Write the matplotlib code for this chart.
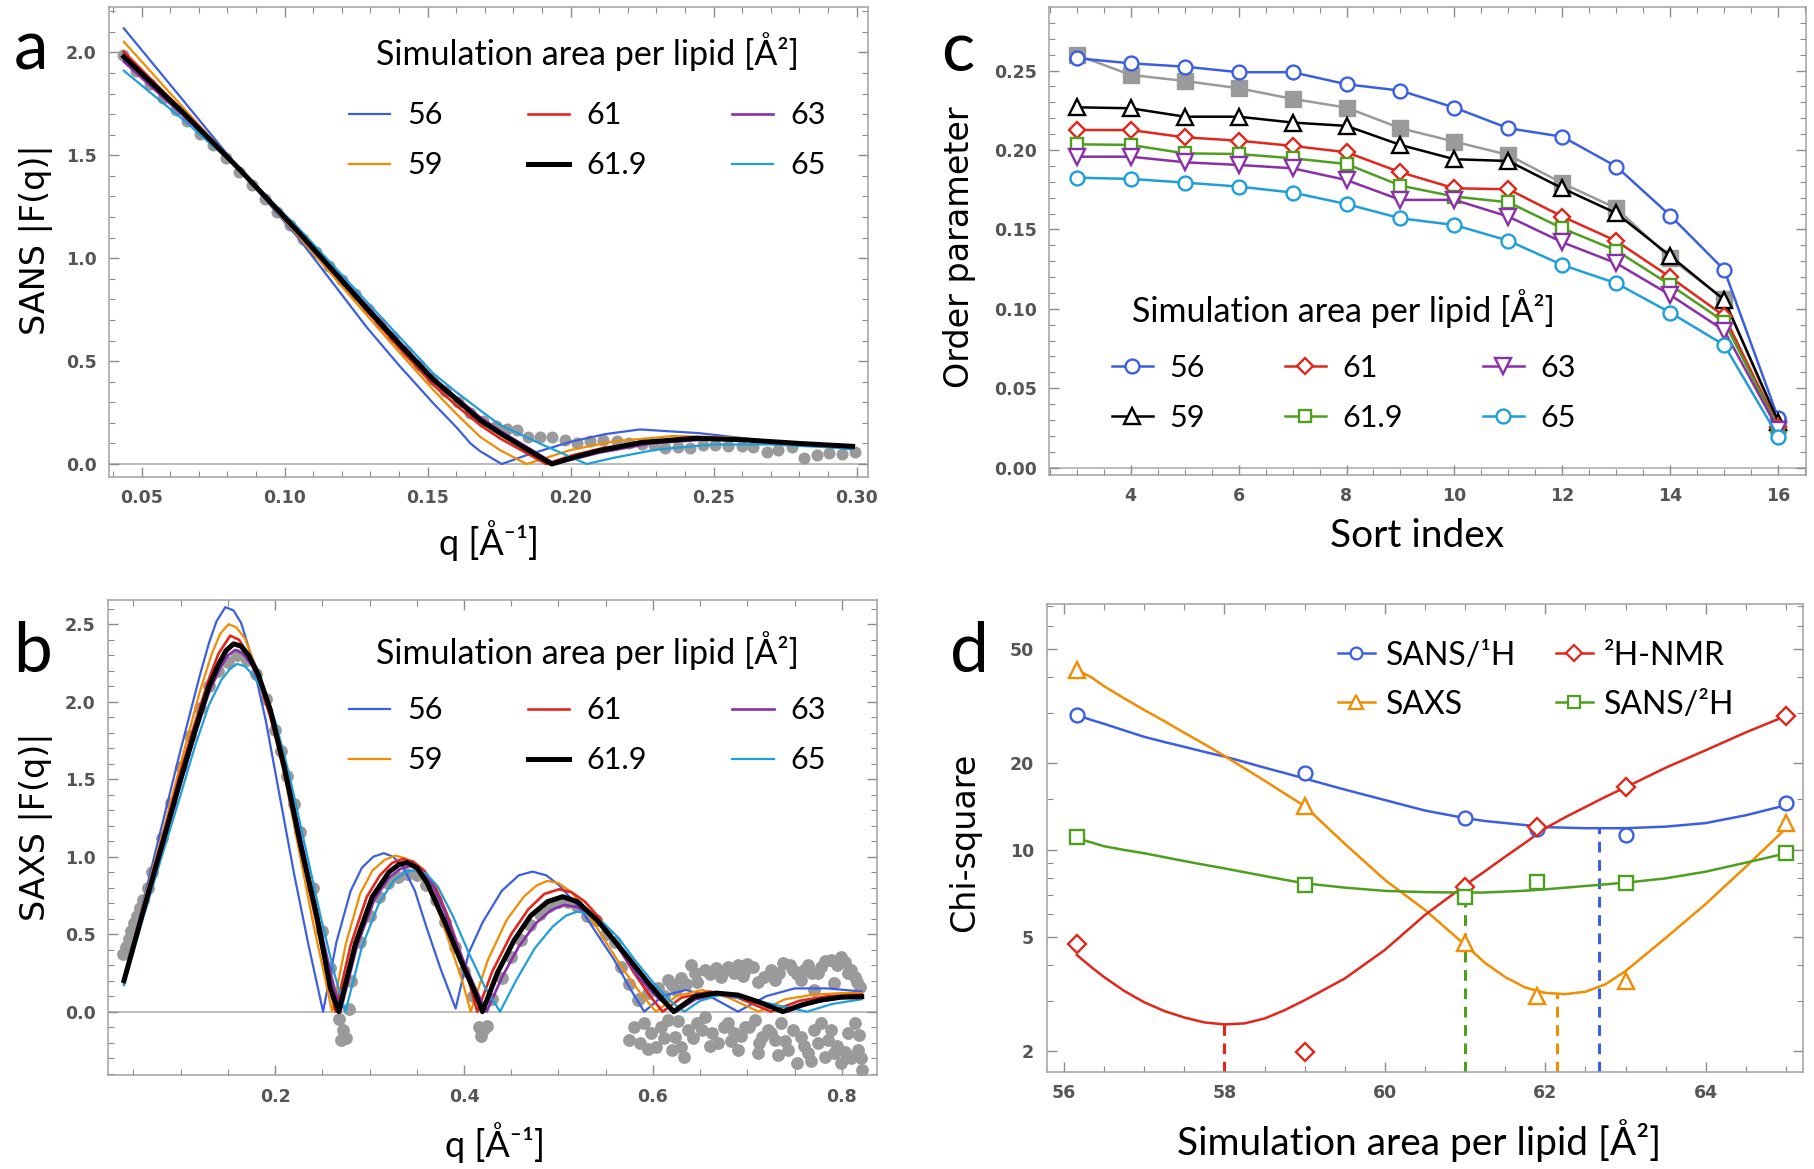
import matplotlib
matplotlib.use('Agg')
import matplotlib.pyplot as plt
from matplotlib.lines import Line2D
from matplotlib.ticker import MultipleLocator, FixedLocator, NullFormatter

plt.rcParams['font.family'] = ['Lato', 'DejaVu Sans']

# ---------------- data ----------------
areas = ['56', '59', '61', '61.9', '63', '65']
area_colors = ['#3b5fe0', '#f28c00', '#e3261b', '#000000', '#8b2fa8', '#1e9fd9']

# panel a: SANS form factors
a_q = {
    '56':   [0.0438, 0.064, 0.0844, 0.1053, 0.1287, 0.140, 0.152, 0.160, 0.165, 0.1683, 0.1759, 0.185, 0.200, 0.212, 0.2242, 0.245, 0.270, 0.2986],
    '59':   [0.0438, 0.064, 0.0844, 0.1053, 0.1287, 0.140, 0.152, 0.160, 0.1683, 0.1753, 0.1846, 0.200, 0.215, 0.2359, 0.255, 0.275, 0.2986],
    '61':   [0.0438, 0.064, 0.0844, 0.1053, 0.1287, 0.140, 0.152, 0.160, 0.1683, 0.1753, 0.1915, 0.200, 0.212, 0.240, 0.260, 0.280, 0.2986],
    '61.9': [0.0438, 0.064, 0.0844, 0.1053, 0.1287, 0.140, 0.152, 0.160, 0.1683, 0.1753, 0.1934, 0.200, 0.210, 0.225, 0.244, 0.260, 0.280, 0.2986],
    '63':   [0.0438, 0.064, 0.0844, 0.1053, 0.1287, 0.140, 0.152, 0.160, 0.1683, 0.1753, 0.1945, 0.200, 0.210, 0.228, 0.248, 0.265, 0.280, 0.2986],
    '65':   [0.0438, 0.064, 0.0844, 0.1053, 0.1287, 0.140, 0.152, 0.160, 0.1683, 0.1753, 0.190, 0.2056, 0.215, 0.230, 0.250, 0.270, 0.2986],
}
a_f = {
    '56':   [2.117, 1.776, 1.43, 1.09, 0.665, 0.48, 0.295, 0.18, 0.10, 0.063, 0.0, 0.045, 0.108, 0.145, 0.168, 0.15, 0.11, 0.072],
    '59':   [2.052, 1.74, 1.43, 1.10, 0.724, 0.545, 0.36, 0.245, 0.133, 0.068, 0.0, 0.068, 0.11, 0.136, 0.13, 0.105, 0.080],
    '61':   [2.003, 1.72, 1.43, 1.115, 0.745, 0.565, 0.385, 0.285, 0.19, 0.125, 0.0, 0.04, 0.08, 0.128, 0.12, 0.10, 0.084],
    '61.9': [1.979, 1.715, 1.43, 1.12, 0.757, 0.585, 0.41, 0.315, 0.214, 0.150, 0.0, 0.028, 0.065, 0.105, 0.125, 0.118, 0.10, 0.086],
    '63':   [1.955, 1.70, 1.43, 1.128, 0.77, 0.597, 0.42, 0.325, 0.228, 0.162, 0.0, 0.02, 0.055, 0.10, 0.12, 0.115, 0.10, 0.083],
    '65':   [1.911, 1.68, 1.43, 1.14, 0.789, 0.62, 0.44, 0.35, 0.262, 0.19, 0.095, 0.0, 0.03, 0.07, 0.095, 0.095, 0.075],
}
a_exp_q = [0.0436, 0.0480, 0.0528, 0.0574, 0.0620, 0.0660, 0.0705, 0.0750, 0.0795, 0.0840, 0.0885, 0.0930,
           0.0975, 0.1020, 0.1065, 0.1110, 0.1155, 0.1200, 0.1245, 0.1290, 0.1335, 0.1380, 0.1425, 0.1470,
           0.1515, 0.1560, 0.1605, 0.1650, 0.1695, 0.1740, 0.1776, 0.1811, 0.1852, 0.1893, 0.1934, 0.1981,
           0.2022, 0.2068, 0.2115, 0.2161, 0.2205, 0.2250, 0.2290, 0.2330, 0.2377, 0.2418, 0.2464, 0.2505,
           0.2552, 0.2599, 0.2639, 0.2686, 0.2727, 0.2774, 0.2815, 0.2861, 0.2902, 0.2949, 0.2996]
a_exp_f = [1.987, 1.91, 1.845, 1.78, 1.72, 1.665, 1.605, 1.55, 1.485, 1.42, 1.355, 1.29,
           1.225, 1.16, 1.095, 1.03, 0.96, 0.895, 0.825, 0.755, 0.685, 0.615, 0.55, 0.48,
           0.415, 0.355, 0.30, 0.25, 0.21, 0.185, 0.17, 0.165, 0.133, 0.130, 0.130, 0.117,
           0.10, 0.11, 0.117, 0.11, 0.10, 0.095, 0.09, 0.077, 0.084, 0.077, 0.094, 0.094,
           0.089, 0.089, 0.082, 0.056, 0.066, 0.082, 0.029, 0.045, 0.053, 0.050, 0.056]

# panel b: SAXS form factors
b_q = {
    '56': [0.040, 0.0677, 0.100, 0.120, 0.130, 0.138, 0.1473, 0.156, 0.164, 0.175, 0.190, 0.205, 0.220, 0.235, 0.2508,
           0.265, 0.280, 0.292, 0.304, 0.3151, 0.325, 0.336, 0.348, 0.360, 0.375, 0.3911,
           0.405, 0.420, 0.440, 0.458, 0.4725, 0.487, 0.500, 0.5237, 0.559, 0.5767, 0.5908,
           0.610, 0.635, 0.660, 0.690, 0.720, 0.750, 0.785, 0.821],
    '59': [0.040, 0.060, 0.080, 0.100, 0.120, 0.133, 0.142, 0.1508, 0.159, 0.168, 0.180, 0.195, 0.210, 0.225, 0.240, 0.252, 0.2604,
           0.275, 0.290, 0.303, 0.316, 0.3275, 0.338, 0.350, 0.362, 0.374, 0.387, 0.398, 0.4071,
           0.425, 0.445, 0.463, 0.477, 0.4884, 0.500, 0.514, 0.530, 0.550, 0.570, 0.588, 0.6032,
           0.625, 0.652, 0.680, 0.712, 0.740, 0.770, 0.800, 0.821],
    '61': [0.040, 0.060, 0.080, 0.100, 0.115, 0.130, 0.140, 0.1525, 0.162, 0.172, 0.183, 0.195, 0.210, 0.225, 0.240, 0.255, 0.2639,
           0.280, 0.297, 0.311, 0.324, 0.335, 0.346, 0.358, 0.370, 0.382, 0.396, 0.406, 0.414,
           0.430, 0.450, 0.468, 0.485, 0.5007, 0.514, 0.528, 0.544, 0.562, 0.580, 0.597, 0.6103,
           0.630, 0.660, 0.690, 0.725, 0.755, 0.785, 0.821],
    '61.9': [0.040, 0.060, 0.080, 0.100, 0.115, 0.130, 0.140, 0.148, 0.156, 0.164, 0.172, 0.182, 0.195, 0.210, 0.2268, 0.2444, 0.2586, 0.2674,
             0.2851, 0.3028, 0.3205, 0.331, 0.3399, 0.350, 0.3611, 0.3788, 0.3965, 0.4106, 0.4195,
             0.4353, 0.453, 0.4707, 0.4884, 0.5043, 0.520, 0.541, 0.5696, 0.5944, 0.612, 0.622,
             0.644, 0.667, 0.690, 0.711, 0.7375, 0.757, 0.778, 0.799, 0.821],
    '63': [0.040, 0.060, 0.080, 0.100, 0.115, 0.130, 0.142, 0.150, 0.1578, 0.166, 0.175, 0.185, 0.197, 0.212, 0.228, 0.245, 0.260, 0.2692,
           0.287, 0.305, 0.320, 0.332, 0.342, 0.353, 0.365, 0.380, 0.398, 0.412, 0.424,
           0.440, 0.458, 0.476, 0.492, 0.506, 0.520, 0.535, 0.550, 0.567, 0.585, 0.605, 0.6245,
           0.645, 0.670, 0.700, 0.742, 0.770, 0.800, 0.821],
    '65': [0.040, 0.060, 0.080, 0.100, 0.115, 0.130, 0.143, 0.152, 0.1596, 0.168, 0.177, 0.187, 0.200, 0.215, 0.231, 0.248, 0.263, 0.2745,
           0.292, 0.310, 0.326, 0.338, 0.3487, 0.360, 0.372, 0.388, 0.405, 0.422, 0.4381,
           0.455, 0.475, 0.494, 0.508, 0.5202, 0.533, 0.548, 0.563, 0.580, 0.600, 0.618, 0.6332,
           0.650, 0.672, 0.710, 0.763, 0.790, 0.821],
}
b_f = {
    '56': [0.18, 0.893, 1.69, 2.163, 2.38, 2.52, 2.611, 2.59, 2.51, 2.292, 1.883, 1.388, 0.893, 0.441, 0.0,
           0.45, 0.78, 0.93, 1.00, 1.023, 1.00, 0.93, 0.78, 0.55, 0.28, 0.02,
           0.38, 0.58, 0.78, 0.88, 0.904, 0.88, 0.82, 0.66, 0.334, 0.14, 0.0,
           0.10, 0.14, 0.10, 0.0, 0.10, 0.15, 0.15, 0.13],
    '59': [0.19, 0.68, 1.13, 1.60, 2.06, 2.31, 2.44, 2.501, 2.48, 2.41, 2.22, 1.92, 1.52, 1.05, 0.58, 0.24, 0.0,
           0.44, 0.76, 0.91, 0.98, 1.007, 0.99, 0.92, 0.80, 0.63, 0.40, 0.20, 0.0,
           0.33, 0.59, 0.74, 0.815, 0.844, 0.83, 0.77, 0.65, 0.45, 0.26, 0.11, 0.0,
           0.10, 0.14, 0.09, 0.0, 0.08, 0.11, 0.12, 0.12],
    '61': [0.20, 0.66, 1.10, 1.55, 1.86, 2.15, 2.31, 2.427, 2.40, 2.30, 2.13, 1.90, 1.55, 1.13, 0.68, 0.25, 0.0,
           0.43, 0.74, 0.88, 0.96, 0.985, 0.97, 0.91, 0.80, 0.63, 0.38, 0.18, 0.0,
           0.26, 0.50, 0.66, 0.76, 0.79, 0.77, 0.71, 0.60, 0.43, 0.25, 0.10, 0.0,
           0.09, 0.13, 0.09, 0.0, 0.07, 0.10, 0.11],
    '61.9': [0.20, 0.64, 1.07, 1.50, 1.81, 2.10, 2.24, 2.33, 2.374, 2.36, 2.30, 2.18, 1.948, 1.57, 1.08, 0.61, 0.15, 0.0,
             0.44, 0.74, 0.90, 0.95, 0.962, 0.93, 0.83, 0.59, 0.33, 0.14, 0.0,
             0.25, 0.46, 0.62, 0.71, 0.742, 0.71, 0.59, 0.38, 0.19, 0.065, 0.0,
             0.097, 0.12, 0.107, 0.065, 0.0, 0.043, 0.075, 0.093, 0.097],
    '63': [0.19, 0.63, 1.05, 1.47, 1.78, 2.06, 2.22, 2.30, 2.335, 2.31, 2.24, 2.12, 1.92, 1.56, 1.10, 0.62, 0.22, 0.0,
           0.43, 0.72, 0.86, 0.92, 0.94, 0.92, 0.84, 0.64, 0.35, 0.15, 0.0,
           0.22, 0.42, 0.57, 0.655, 0.689, 0.675, 0.62, 0.53, 0.38, 0.22, 0.09, 0.0,
           0.08, 0.11, 0.08, 0.0, 0.06, 0.09, 0.09],
    '65': [0.17, 0.60, 1.00, 1.40, 1.71, 1.98, 2.14, 2.21, 2.245, 2.23, 2.17, 2.07, 1.88, 1.53, 1.09, 0.62, 0.24, 0.0,
           0.42, 0.70, 0.85, 0.90, 0.915, 0.89, 0.81, 0.62, 0.38, 0.16, 0.0,
           0.20, 0.41, 0.55, 0.62, 0.646, 0.63, 0.57, 0.48, 0.34, 0.19, 0.07, 0.0,
           0.07, 0.11, 0.07, 0.0, 0.05, 0.08],
}
b_exp_q = [0.039, 0.042, 0.045, 0.048, 0.051, 0.054, 0.057, 0.060, 0.065, 0.070, 0.080, 0.090, 0.100, 0.110,
           0.120, 0.130, 0.140, 0.150, 0.160, 0.170, 0.180, 0.190, 0.200, 0.206, 0.2127, 0.220, 0.2268, 0.240,
           0.250, 0.258, 0.264, 0.268, 0.270, 0.272, 0.275, 0.278, 0.280, 0.290, 0.300, 0.310, 0.320, 0.330,
           0.340, 0.350, 0.360, 0.370, 0.380, 0.390, 0.400, 0.410, 0.416, 0.418, 0.420, 0.424, 0.430, 0.440,
           0.450, 0.460, 0.470, 0.480, 0.490, 0.500, 0.510, 0.520, 0.530, 0.540, 0.550, 0.560, 0.566, 0.575,
           0.584,
           0.616, 0.630, 0.644, 0.655, 0.667, 0.679, 0.690, 0.697, 0.706, 0.718, 0.729, 0.738, 0.748,
           0.757, 0.768, 0.778, 0.789, 0.799, 0.807, 0.814, 0.819, 0.647, 0.672, 0.686, 0.711, 0.771,
           0.792, 0.624, 0.605, 0.764, 0.612, 0.620, 0.635, 0.640, 0.660, 0.675, 0.695, 0.700, 0.725,
           0.733, 0.745, 0.752, 0.760, 0.775, 0.782, 0.795, 0.803, 0.810, 0.816, 0.595, 0.585,
           0.575, 0.591, 0.598, 0.609, 0.616, 0.623, 0.630, 0.637, 0.647, 0.655, 0.662, 0.669, 0.679,
           0.690, 0.697, 0.708, 0.715, 0.722, 0.729, 0.736, 0.743, 0.752, 0.757, 0.764, 0.771, 0.778,
           0.785, 0.792, 0.799, 0.807, 0.814, 0.817, 0.821, 0.603, 0.633, 0.686, 0.711,
           0.580, 0.586, 0.595, 0.612, 0.620, 0.627, 0.642, 0.652, 0.660, 0.675, 0.683, 0.693, 0.702,
           0.712, 0.725, 0.732, 0.740, 0.748, 0.760, 0.767, 0.775, 0.782, 0.789, 0.795, 0.803, 0.810,
           0.818, 0.820]
b_exp_f = [0.37, 0.42, 0.47, 0.52, 0.57, 0.62, 0.67, 0.72, 0.80, 0.90, 1.12, 1.35, 1.58, 1.78,
           1.96, 2.10, 2.20, 2.26, 2.30, 2.27, 2.18, 2.02, 1.82, 1.68, 1.52, 1.34, 1.16, 0.80,
           0.52, 0.28, 0.10, -0.05, -0.18, -0.12, -0.17, 0.02, 0.20, 0.45, 0.62, 0.74, 0.83, 0.87,
           0.89, 0.88, 0.82, 0.72, 0.58, 0.42, 0.26, 0.10, -0.10, -0.16, -0.12, -0.09, 0.08, 0.22,
           0.35, 0.46, 0.56, 0.63, 0.68, 0.71, 0.71, 0.68, 0.62, 0.593, 0.50, 0.45, 0.29, 0.18,
           0.075,
           0.205, 0.215, 0.248, 0.269, 0.280, 0.291, 0.302, 0.269, 0.291, 0.226, 0.205, 0.312, 0.269,
           0.205, 0.248, 0.291, 0.334, 0.355, 0.248, 0.226, 0.162, 0.194, 0.226, 0.248, 0.194, 0.140,
           0.183, 0.140, 0.151, 0.302, 0.10, 0.17, 0.18, 0.30, 0.24, 0.26, 0.23, 0.31, 0.27,
           0.25, 0.30, 0.24, 0.27, 0.25, 0.33, 0.30, 0.32, 0.27, 0.19, 0.12, 0.08,
           -0.183, -0.075, -0.140, -0.096, -0.053, -0.161, -0.226, -0.118, -0.075, -0.032, -0.140, -0.204, -0.075,
           -0.247, -0.096, -0.053, -0.161, -0.118, -0.183, -0.075, -0.247, -0.333, -0.161, -0.269, -0.118, -0.075,
           -0.183, -0.269, -0.333, -0.140, -0.075, -0.247, -0.376, -0.226, -0.290, -0.140, -0.269,
           -0.10, -0.20, -0.24, -0.17, -0.25, -0.06, -0.17, -0.12, -0.22, -0.10, -0.19, -0.16, -0.10,
           -0.20, -0.14, -0.28, -0.19, -0.12, -0.22, -0.32, -0.20, -0.29, -0.12, -0.22, -0.26, -0.30,
           -0.15, -0.30]

# panel c: order parameters
sort_index = [3, 4, 5, 6, 7, 8, 9, 10, 11, 12, 13, 14, 15, 16]
s_exp = [0.2599, 0.2473, 0.2435, 0.2389, 0.2322, 0.2267, 0.2137, 0.2053, 0.1969, 0.1791, 0.1633, 0.1318, 0.1060, 0.0270]
s_sim = {
    '56':   [0.2578, 0.2546, 0.2525, 0.2490, 0.2490, 0.2414, 0.2374, 0.2267, 0.2137, 0.2084, 0.1896, 0.1587, 0.1245, 0.0311],
    '59':   [0.2269, 0.2263, 0.2210, 0.2210, 0.2173, 0.2152, 0.2032, 0.1942, 0.1931, 0.1759, 0.1602, 0.1333, 0.1056, 0.0290],
    '61':   [0.2126, 0.2126, 0.2080, 0.2059, 0.2026, 0.1986, 0.1860, 0.1759, 0.1753, 0.1581, 0.1427, 0.1199, 0.0955, 0.0258],
    '61.9': [0.2036, 0.2032, 0.1979, 0.1975, 0.1948, 0.1912, 0.1776, 0.1707, 0.1671, 0.1507, 0.1367, 0.1150, 0.0919, 0.0248],
    '63':   [0.1958, 0.1958, 0.1923, 0.1906, 0.1885, 0.1811, 0.1686, 0.1686, 0.1581, 0.1419, 0.1287, 0.1087, 0.0863, 0.0237],
    '65':   [0.1826, 0.1818, 0.1795, 0.1770, 0.1732, 0.1660, 0.1570, 0.1528, 0.1429, 0.1276, 0.1161, 0.0976, 0.0772, 0.0195],
}
c_colors = ['#3b5fe0', '#000000', '#e3261b', '#4e9e1f', '#8b2fa8', '#1e9fd9']
c_markers = ['o', '^', 'D', 's', 'v', 'o']
c_msize = [10, 11, 8.5, 9, 11, 10]

# panel d: chi-square
sim_area = [56.16, 59, 61, 61.9, 63, 65]
chi_pts = {
    'SANS/¹H': [29.4, 18.5, 12.9, 11.8, 11.3, 14.6],
    'SAXS':    [42.2, 14.2, 4.74, 3.11, 3.52, 12.4],
    '²H-NMR':  [4.71, 1.99, 7.46, 12.05, 16.5, 29.2],
    'SANS/²H': [11.1, 7.55, 6.85, 7.77, 7.70, 9.74],
}
fit_area = [56.16, 56.35, 56.5, 56.75, 57, 57.25, 57.5, 57.75, 58, 58.25, 58.5, 58.75, 59, 59.5, 60, 60.5,
            61, 61.25, 61.5, 61.75, 62, 62.25, 62.5, 62.75, 63, 63.5, 64, 64.5, 65]
chi_fit = {
    'SANS/¹H': [29.4, 28.2, 27.4, 26.0, 24.7, 23.7, 22.8, 21.9, 21.1, 20.2, 19.3, 18.5, 17.7, 16.2, 14.9, 13.7,
                12.9, 12.6, 12.4, 12.2, 12.0, 11.95, 11.9, 11.9, 11.9, 12.05, 12.4, 13.2, 14.3],
    'SAXS':    [42.2, 39.6, 37.0, 33.6, 30.6, 28.0, 25.5, 23.3, 21.2, 19.2, 17.4, 15.7, 14.2, 10.5, 7.87, 6.19,
                4.68, 4.05, 3.62, 3.33, 3.19, 3.16, 3.22, 3.42, 3.80, 4.95, 6.5, 8.75, 11.9],
    '²H-NMR':  [4.32, 3.90, 3.62, 3.24, 2.96, 2.76, 2.62, 2.52, 2.48, 2.50, 2.60, 2.78, 3.01, 3.58, 4.50, 5.95,
                7.55, 8.45, 9.48, 10.6, 11.9, 13.0, 14.1, 15.3, 16.5, 19.3, 22.2, 25.6, 29.2],
    'SANS/²H': [10.98, 10.6, 10.3, 10.0, 9.74, 9.44, 9.15, 8.88, 8.63, 8.37, 8.12, 7.88, 7.66, 7.40, 7.21, 7.14,
                7.11, 7.12, 7.17, 7.22, 7.30, 7.40, 7.50, 7.60, 7.70, 7.97, 8.41, 9.04, 9.73],
}
chi_min_area = {'SANS/¹H': 62.67, 'SAXS': 62.15, '²H-NMR': 58.0, 'SANS/²H': 61.0}
chi_min_val = {'SANS/¹H': 11.9, 'SAXS': 3.16, '²H-NMR': 2.48, 'SANS/²H': 7.11}
d_colors = {'SANS/¹H': '#3b5fe0', 'SAXS': '#f28c00', '²H-NMR': '#e3261b', 'SANS/²H': '#4e9e1f'}
d_markers = {'SANS/¹H': 'o', 'SAXS': '^', '²H-NMR': 'D', 'SANS/²H': 's'}
d_msize = {'SANS/¹H': 10, 'SAXS': 12, '²H-NMR': 9, 'SANS/²H': 10}

legend_title = 'Simulation area per lipid [Å²]'
qlabel = 'q [Å⁻¹]'

# ---------------- helpers ----------------
GRAY = '#9a9a9a'


def frame(ax):
    for s in ax.spines.values():
        s.set_color('#a0a0a0')
        s.set_linewidth(1.1)
    ax.tick_params(which='both', direction='in', top=True, right=True,
                   color='#8c8c8c', labelcolor='#555555', labelsize=12.5)
    ax.tick_params(which='major', length=7, width=1)
    ax.tick_params(which='minor', length=4, width=0.8)
    ax.tick_params(axis='x', pad=9)
    ax.tick_params(axis='y', pad=9)


def boldticks(ax):
    for lab in ax.get_xticklabels() + ax.get_yticklabels():
        lab.set_fontfamily('DejaVu Sans')
        lab.set_fontweight('bold')


def labels(ax, xl, yl, xpos, ypos, xsize):
    ax.set_xlabel(xl, fontsize=xsize)
    ax.set_ylabel(yl, fontsize=24, family=['DejaVu Sans'])
    ax.xaxis.set_label_coords(*xpos)
    ax.yaxis.set_label_coords(*ypos)
    ax.xaxis.label.set_va('center')
    ax.yaxis.label.set_va('center')


def area_legend(ax, anchor, sep, colsp):
    leg = ax.legend(ncol=3, title=legend_title, frameon=False, fontsize=22, title_fontsize=24.5,
                    loc='upper left', bbox_to_anchor=anchor, borderaxespad=0, borderpad=0,
                    handlelength=1.35, handletextpad=0.55, columnspacing=colsp, labelspacing=0.72)
    leg._legend_box.sep = sep
    return leg


fig = plt.figure(figsize=(18.15, 11.69), dpi=100)

# ---------------- panel a ----------------
ax = fig.add_axes([0.0602, 0.5922, 0.4182, 0.4015])
frame(ax)
ax.axhline(0, color='#b0b0b0', lw=1.2, zorder=1)
ax.scatter(a_exp_q, a_exp_f, s=75, color=GRAY, lw=0, zorder=2)
for lab, col in zip(areas, area_colors):
    lw = 3.6 if lab == '61.9' else (1.9 if lab in ('61', '63') else 1.6)
    z = 5 if lab == '61.9' else 3
    ax.plot(a_q[lab], a_f[lab], color=col, lw=lw, label=lab, zorder=z, solid_joinstyle='round')
ax.set_xlim(0.0387, 0.3041)
ax.set_ylim(-0.0617, 2.219)
ax.set_xticks([0.05, 0.10, 0.15, 0.20, 0.25, 0.30], ['0.05', '0.10', '0.15', '0.20', '0.25', '0.30'])
ax.set_yticks([0.0, 0.5, 1.0, 1.5, 2.0], ['0.0', '0.5', '1.0', '1.5', '2.0'])
ax.xaxis.set_minor_locator(MultipleLocator(0.01))
ax.yaxis.set_minor_locator(MultipleLocator(0.1))
boldticks(ax)
labels(ax, qlabel, 'SANS |F(q)|', (0.5, -0.135), (-0.0966, 0.506), 26)
area_legend(ax, (0.3158, 0.948), 22, 2.8)

# ---------------- panel b ----------------
ax = fig.add_axes([0.0597, 0.0804, 0.4234, 0.4063])
frame(ax)
ax.axhline(0, color='#b0b0b0', lw=1.2, zorder=1)
ax.scatter(b_exp_q, b_exp_f, s=85, color=GRAY, lw=0, zorder=2)
for lab, col in zip(areas, area_colors):
    lw = 3.6 if lab == '61.9' else (1.9 if lab in ('61', '63') else 1.6)
    z = 5 if lab == '61.9' else 3
    ax.plot(b_q[lab], b_f[lab], color=col, lw=lw, label=lab, zorder=z, solid_joinstyle='round')
ax.set_xlim(0.0235, 0.837)
ax.set_ylim(-0.409, 2.657)
ax.set_xticks([0.2, 0.4, 0.6, 0.8], ['0.2', '0.4', '0.6', '0.8'])
ax.set_yticks([0.0, 0.5, 1.0, 1.5, 2.0, 2.5], ['0.0', '0.5', '1.0', '1.5', '2.0', '2.5'])
ax.xaxis.set_minor_locator(MultipleLocator(0.05))
ax.yaxis.set_minor_locator(MultipleLocator(0.1))
boldticks(ax)
labels(ax, qlabel, 'SAXS |F(q)|', (0.503, -0.142), (-0.094, 0.523), 26)
area_legend(ax, (0.3133, 0.935), 19, 2.8)

# ---------------- panel c ----------------
ax = fig.add_axes([0.5781, 0.5937, 0.4169, 0.4001])
frame(ax)
ax.axhline(0, color='#b0b0b0', lw=1.2, zorder=1)
ax.plot(sort_index, s_exp, color=GRAY, lw=1.8, marker='s', ms=12, mfc=GRAY, mec=GRAY, zorder=2)
for lab, col, mk, ms in zip(areas, c_colors, c_markers, c_msize):
    ax.plot(sort_index, s_sim[lab], color=col, lw=1.8, marker=mk, ms=ms, mfc='white',
            mec=col, mew=1.7, label=lab, zorder=3)
ax.set_xlim(2.492, 16.513)
ax.set_ylim(-0.0046, 0.2899)
ax.set_xticks([4, 6, 8, 10, 12, 14, 16], ['4', '6', '8', '10', '12', '14', '16'])
ax.set_yticks([0.0, 0.05, 0.10, 0.15, 0.20, 0.25], ['0.00', '0.05', '0.10', '0.15', '0.20', '0.25'])
ax.xaxis.set_minor_locator(MultipleLocator(0.5))
ax.yaxis.set_minor_locator(MultipleLocator(0.01))
boldticks(ax)
labels(ax, 'Sort index', 'Order parameter', (0.486, -0.130), (-0.119, 0.4875), 28)
area_legend(ax, (0.0825, 0.398), 19, 2.6)

# ---------------- panel d ----------------
ax = fig.add_axes([0.5767, 0.0832, 0.4169, 0.4001])
frame(ax)
ax.set_yscale('log')
handles = []
for key in ['SANS/¹H', 'SAXS', '²H-NMR', 'SANS/²H']:
    col = d_colors[key]
    ax.plot(fit_area, chi_fit[key], color=col, lw=1.8, zorder=3, solid_joinstyle='round')
    ax.vlines(chi_min_area[key], 1.699, chi_min_val[key], colors=col, lw=2.2,
              linestyles=(0, (3.5, 2.5)), zorder=2)
    ax.plot(sim_area, chi_pts[key], ls='none', marker=d_markers[key], ms=d_msize[key],
            mfc='white', mec=col, mew=1.7, zorder=4)
    handles.append(Line2D([], [], color=col, lw=1.8, marker=d_markers[key], ms=d_msize[key] * 0.85,
                          mfc='white', mec=col, mew=1.6, label=key))
ax.set_xlim(55.784, 65.216)
ax.set_ylim(1.699, 71.4)
ax.set_xticks([56, 58, 60, 62, 64], ['56', '58', '60', '62', '64'])
ax.xaxis.set_minor_locator(MultipleLocator(0.5))
ax.yaxis.set_major_locator(FixedLocator([2, 5, 10, 20, 50]))
ax.yaxis.set_minor_locator(FixedLocator([3, 4, 6, 7, 8, 9, 15, 30, 40, 60, 70]))
ax.yaxis.set_minor_formatter(NullFormatter())
ax.set_yticklabels(['2', '5', '10', '20', '50'])
boldticks(ax)
labels(ax, legend_title, 'Chi-square', (0.492, -0.148), (-0.108, 0.49), 28)
ax.legend(handles=handles, ncol=2, frameon=False, fontsize=23, loc='upper left',
          bbox_to_anchor=(0.385, 0.922), borderaxespad=0, borderpad=0,
          handlelength=1.15, handletextpad=0.35, columnspacing=1.25, labelspacing=0.6)

# panel letters
for letter, (x, y) in zip('abcd', [(31, 70), (33, 672), (958, 71), (969, 672)]):
    fig.text(x / 1815, 1 - y / 1169, letter, fontsize=50, ha='center', va='baseline')

fig.savefig('out.png', dpi=100)
